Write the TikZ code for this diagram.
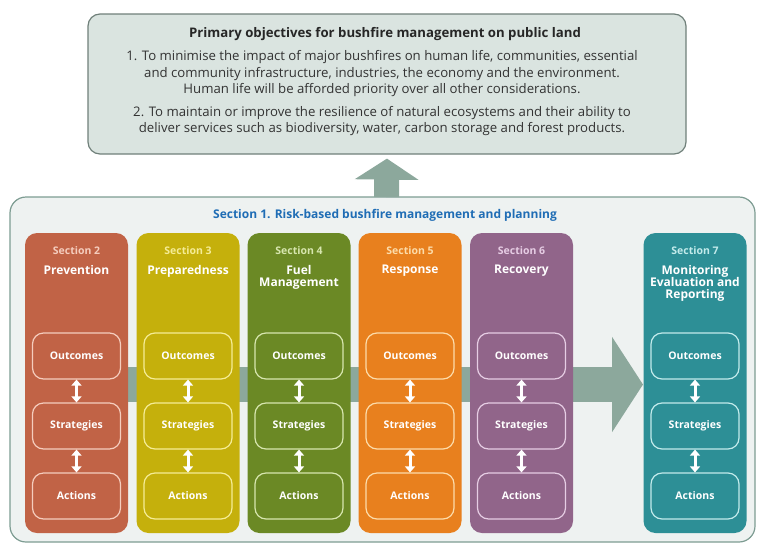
\documentclass[tikz,border=0pt]{standalone}
\usepackage{fontspec}
\setmainfont{Open Sans}
\usetikzlibrary{arrows.meta, positioning}

\definecolor{goalfill}{RGB}{218,228,224}
\definecolor{goalline}{RGB}{112,128,122}
\definecolor{framefill}{RGB}{238,242,241}
\definecolor{frameline}{RGB}{125,156,146}
\definecolor{flowgrey}{RGB}{140,168,156}
\definecolor{riskblue}{RGB}{31,109,181}
\definecolor{prevbase}{RGB}{193,99,70}
\definecolor{prevtint}{RGB}{245,205,190}
\definecolor{prepbase}{RGB}{197,176,12}
\definecolor{preptint}{RGB}{245,236,150}
\definecolor{fuelbase}{RGB}{107,137,37}
\definecolor{fueltint}{RGB}{215,230,175}
\definecolor{respbase}{RGB}{232,128,30}
\definecolor{resptint}{RGB}{252,220,170}
\definecolor{recobase}{RGB}{145,101,138}
\definecolor{recotint}{RGB}{230,205,228}
\definecolor{monibase}{RGB}{45,143,150}
\definecolor{monitint}{RGB}{195,235,235}

\tikzset{
  goalbox/.style={draw=goalline, fill=goalfill, line width=1.2pt, rounded corners=12pt,
    minimum width=598pt, minimum height=140pt},
  riskframe/.style={draw=frameline, fill=framefill, line width=1.2pt, rounded corners=16pt,
    minimum width=745pt, minimum height=345pt},
  goaltext/.style={align=center, text=black!80, font=\fontsize{13.2}{16.5}\selectfont},
  column/.style={rounded corners=12pt, minimum width=103pt, minimum height=300pt, inner sep=0pt},
  sectag/.style={font=\bfseries\fontsize{10.5}{12}\selectfont},
  secname/.style={anchor=north, align=center, text=white, font=\bfseries\fontsize{12}{12}\selectfont},
  stage/.style={draw=#1, line width=1.2pt, rounded corners=11pt, minimum width=88pt,
    minimum height=46pt, text=white, font=\bfseries\fontsize{10.5}{12}\selectfont},
  link/.style={white, line width=3pt, {Triangle[length=6pt,width=10pt]}-{Triangle[length=6pt,width=10pt]}},
}

\begin{document}
\begin{tikzpicture}[x=1pt, y=-1pt]
\useasboundingbox (0,0) rectangle (757,544);
\node (goals) [goalbox] at (387,84) {};
\node (goalstitle) [goaltext, text=black!85, font=\bfseries\fontsize{13.2}{16}\selectfont] at (385,34)
  {Primary objectives for bushfire management on public land};
\node (goal1) [goaltext] at (382,74)
  {1. To minimise the impact of major bushfires on human life, communities, essential\\
   and community infrastructure, industries, the economy and the environment.\\
   Human life will be afforded priority over all other considerations.};
\node (goal2) [goaltext] at (382,121)
  {2. To maintain or improve the resilience of natural ecosystems and their ability to\\
   deliver services such as biodiversity, water, carbon storage and forest products.};
\node (risk) [riskframe] at (382.5,369.5) {};
\node (risktitle) [text=riskblue, font=\bfseries\fontsize{12}{14}\selectfont] at (385,215)
  {Section 1. Risk-based bushfire management and planning};
\coordinate (lift) at (386.5,197);
\coordinate (flowstart) at (76.5,384.5);
\coordinate (flowend) at (643,384.5);
%Feedback to the objectives:
\draw [flowgrey, line width=25pt, -{Triangle[length=21pt,width=63pt]}, shorten >=4pt]
  (lift) -- (goals.south);
\draw [flowgrey, line width=35pt, -{Triangle[length=31pt,width=94pt]}]
  (flowstart) -- (flowend);
%Sections:
\foreach \x/\num/\name/\base/\tint [count=\i] in
  {76.5/2/Prevention/prevbase/prevtint,
   188/3/Preparedness/prepbase/preptint,
   299/4/{Fuel\\Management}/fuelbase/fueltint,
   410/5/Response/respbase/resptint,
   521.5/6/Recovery/recobase/recotint,
   695/7/{Monitoring\\Evaluation and\\Reporting}/monibase/monitint}
{
  \node (col\i) [column, fill=\base] at (\x,383) {};
  \node (tag\i) [sectag, text=\tint] at (\x,251) {Section \num};
  \node (name\i) [secname] at (\x,261.5) {\name};
  \node (out\i) [stage=\tint, fill=\base] at (\x,356) {Outcomes};
  \node (str\i) [stage=\tint, fill=\base] at (\x,426) {Strategies};
  \node (act\i) [stage=\tint, fill=\base] at (\x,496) {Actions};
  \draw [link] (out\i) -- (str\i);
  \draw [link] (str\i) -- (act\i);
}
\end{tikzpicture}
\end{document}
